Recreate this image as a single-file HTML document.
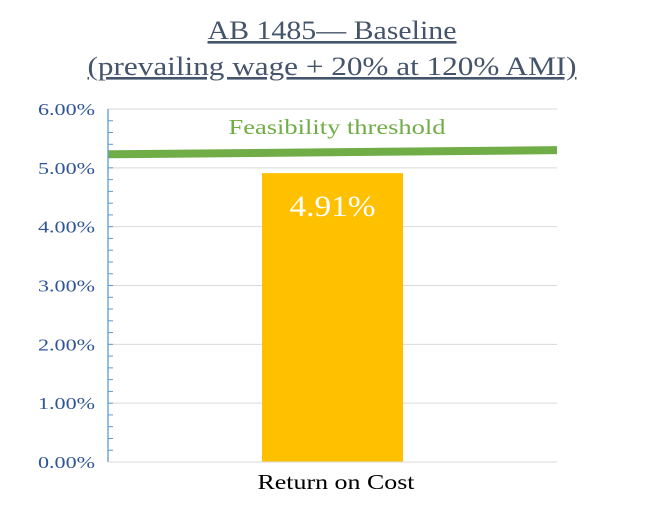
<!DOCTYPE html>
<html><head><meta charset="utf-8"><style>
body{margin:0;background:#fff;}
svg text{font-family:"Liberation Serif",serif;}
</style></head><body>
<svg id="chart" width="664" height="510" xmlns="http://www.w3.org/2000/svg">
<text x="332" y="39" text-anchor="middle" font-size="26" fill="#44546A" text-decoration="underline" textLength="249" lengthAdjust="spacingAndGlyphs">AB 1485— Baseline</text>
<text x="332" y="75" text-anchor="middle" font-size="26" fill="#44546A" text-decoration="underline" textLength="489" lengthAdjust="spacingAndGlyphs">(prevailing wage + 20% at 120% AMI)</text>
<g id="grid"></g><g id="yticks"></g><g id="bars"></g><g id="thr"></g>
<line x1="108" y1="109" x2="108" y2="462" stroke="#5B9BD5" stroke-width="1.3"/>
<line x1="108" y1="462" x2="557" y2="462" stroke="#D9D9D9" stroke-width="1"/>
<text x="336" y="489" text-anchor="middle" font-size="21" fill="#000" textLength="157" lengthAdjust="spacingAndGlyphs">Return on Cost</text>
<text x="337" y="134" text-anchor="middle" font-size="21" fill="#70AD47" textLength="217" lengthAdjust="spacingAndGlyphs">Feasibility threshold</text>
</svg>
<script>
const categories=["Return on Cost"];
const values=[4.91];
const valueLabels=["4.91%"];
const thresholdStart=5.23, thresholdEnd=5.30;
const tickLabels=["0.00%","1.00%","2.00%","3.00%","4.00%","5.00%","6.00%"];
const ns="http://www.w3.org/2000/svg";
const x0=108,x1=557,y0=462,yTop=109,ymax=6;
const y=v=>y0-(v/ymax)*(y0-yTop);
function mk(t,a,p){const e=document.createElementNS(ns,t);for(const k in a)e.setAttribute(k,a[k]);document.getElementById(p).appendChild(e);return e;}
tickLabels.forEach((lab,i)=>{
 const yy=y(i);
 if(i>0){const g=mk('line',{x1:x0,x2:x1,y1:yy,y2:yy,stroke:'#D9D9D9','stroke-width':1},'grid');
 
 }
 const t=mk('text',{x:95,y:yy+6,'text-anchor':'end','font-size':17,fill:'#2F5597',textLength:57,lengthAdjust:'spacingAndGlyphs'},'yticks');t.textContent=lab;
 
 
});
for(let v=0.2;v<ymax-0.01;v+=0.2){const yy=y(v);const m=mk('line',{x1:x0,x2:x0+5,y1:yy,y2:yy,stroke:'#5B9BD5','stroke-width':1},'yticks');
 
 }
const bw=(x1-x0)/categories.length;
categories.forEach((c,i)=>{
 const cx=x0+bw*(i+0.5), w=141;
 const r=mk('rect',{x:cx-w/2,y:y(values[i]),width:w,height:y0-y(values[i]),fill:'#FFC000'},'bars');
 
 
 const t=mk('text',{x:cx,y:y(values[i])+43,'text-anchor':'middle','font-size':30,fill:'#fff',textLength:86,lengthAdjust:'spacingAndGlyphs'},'bars');t.textContent=valueLabels[i];
 
 
});
const l=mk('line',{x1:x0,x2:x1,y1:y(thresholdStart),y2:y(thresholdEnd),stroke:'#70AD47','stroke-width':8},'thr');


</script>
</body></html>
